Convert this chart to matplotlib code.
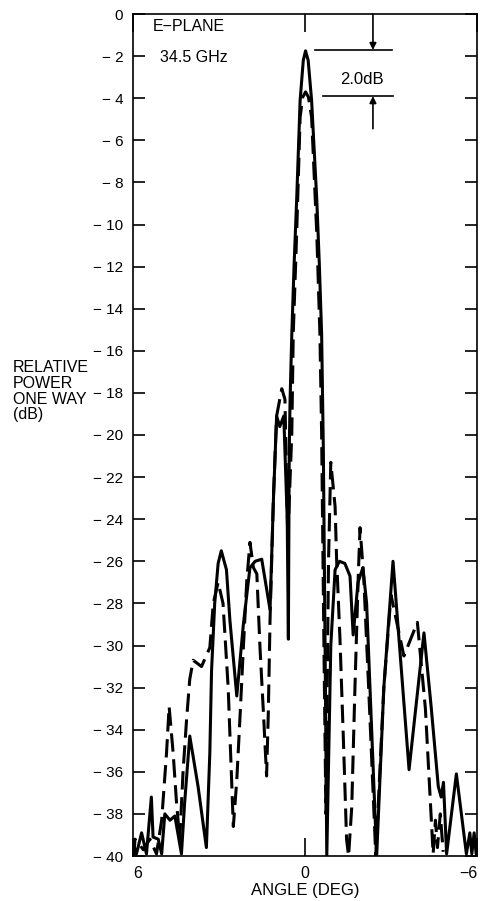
import numpy as np
import matplotlib.pyplot as plt

plt.rcParams['font.family'] = ['Liberation Sans', 'DejaVu Sans']

# measured pattern, solid trace (angle in deg, relative power in dB)
solid_ang = [5.97, 5.88, 5.70, 5.53, 5.36, 5.30, 5.12, 5.00, 4.89, 4.71,
             4.54, 4.31, 4.20, 4.02, 3.73, 3.44, 3.32, 3.26, 3.15, 3.03,
             2.92, 2.74, 2.62, 2.38, 2.15, 1.92, 1.74, 1.51, 1.22, 1.10,
             0.99, 0.88, 0.74, 0.62, 0.58, 0.55, 0.52, 0.46, 0.38, 0.29,
             0.17, 0.06, -0.02, -0.11, -0.23, -0.41, -0.50, -0.58, -0.64, -0.70,
             -0.76, -0.90, -1.05, -1.20, -1.39, -1.57, -1.68, -1.85, -2.02, -2.15,
             -2.50, -2.75, -3.07, -3.63, -4.15, -4.40, -4.65, -4.75, -4.83, -4.94,
             -5.28, -5.63, -5.75, -5.82, -5.90, -5.97]
solid_db = [-39.5, -39.9, -38.9, -39.9, -37.2, -39.1, -39.2, -39.9, -38.0, -38.3,
            -38.1, -39.9, -37.5, -34.3, -36.7, -39.6, -35.1, -31.2, -28.0, -26.1,
            -25.5, -26.4, -28.8, -32.4, -29.0, -26.3, -26.0, -25.9, -28.3, -23.0,
            -19.1, -19.6, -19.1, -24.0, -29.7, -20.7, -18.3, -15.2, -11.9, -8.8,
            -4.1, -2.2, -1.75, -2.2, -4.1, -8.8, -11.9, -15.2, -20.7, -30.0,
            -40.0, -30.0, -26.4, -26.0, -26.1, -26.7, -29.5, -27.0, -26.3, -28.0,
            -40.0, -32.0, -26.0, -35.9, -29.4, -32.9, -36.7, -37.2, -36.5, -39.9,
            -36.1, -39.9, -38.9, -39.9, -38.9, -39.9]

# dashed trace
dash_ang = [5.97, 5.93, 5.64, 5.41, 5.18, 5.00, 4.83, 4.74, 4.60, 4.48,
            4.37, 4.25, 4.13, 4.02, 3.90, 3.61, 3.32, 3.20, 3.03, 2.86,
            2.68, 2.50, 2.38, 2.26, 2.15, 2.03, 1.92, 1.80, 1.68, 1.57,
            1.45, 1.34, 1.28, 1.22, 1.10, 0.99, 0.81, 0.70, 0.60, 0.46,
            0.41, 0.29, 0.17, 0.08, -0.02, -0.12, -0.23, -0.41, -0.52, -0.58,
            -0.66, -0.73, -0.82, -0.90, -1.05, -1.10, -1.22, -1.34, -1.45, -1.52,
            -1.63, -1.74, -1.86, -1.92, -2.05, -2.22, -2.47, -2.75, -3.00, -3.45,
            -3.92, -4.20, -4.47, -4.55, -4.62, -4.72, -4.82]
dash_db = [-40.0, -39.2, -39.7, -39.2, -39.9, -38.3, -35.1, -32.9, -35.1, -37.5,
           -39.2, -35.9, -33.5, -31.6, -30.7, -31.0, -30.1, -28.0, -27.0, -28.0,
           -32.0, -38.6, -36.4, -33.2, -30.1, -26.9, -25.1, -26.3, -26.6, -30.1,
           -33.2, -36.2, -33.2, -28.8, -22.9, -19.1, -17.8, -18.3, -25.0, -19.9,
           -15.2, -10.4, -4.9, -3.95, -3.7, -3.95, -4.9, -10.4, -15.2, -19.9,
           -30.0, -38.0, -26.0, -21.3, -23.4, -25.8, -29.7, -34.5, -39.2, -40.0,
           -37.7, -32.1, -26.6, -24.4, -26.8, -32.0, -40.0, -32.0, -27.6, -30.5,
           -28.9, -33.0, -39.9, -38.3, -39.6, -38.0, -39.8]

ytick_vals = list(range(0, -41, -2))
ytick_labels = ['0'] + ['\u2212 %d' % -v for v in ytick_vals[1:]]
xtick_vals = [6, 0, -6]
xtick_labels = ['6', '0', '\u22126']

fig = plt.figure(figsize=(4.8, 9.01), dpi=100)
ax = fig.add_axes([133 / 480, 1 - 856 / 901, 344 / 480, 842 / 901])

ax.plot(solid_ang, solid_db, color='black', lw=2.2,
        solid_joinstyle='round', solid_capstyle='round')
ax.plot(dash_ang, dash_db, color='black', lw=2.2, linestyle=(0, (6, 2.5)),
        dash_joinstyle='round')

ax.set_xlim(6, -6)
ax.set_ylim(-40, 0)
ax.set_yticks(ytick_vals)
ax.set_yticklabels(ytick_labels)
ax.set_xticks(xtick_vals)
ax.set_xticklabels(xtick_labels)
ax.tick_params(axis='y', direction='in', length=8.5, width=1.2, right=True,
               labelsize=11, pad=7)
ax.tick_params(axis='x', direction='in', length=13, width=1.2, top=True,
               labelsize=11.5, pad=7)
xl = ax.get_xticklabels()
xl[0].set_ha('left')
xl[-1].set_ha('right')
for s in ax.spines.values():
    s.set_linewidth(1.2)

# 2.0 dB marker
ax.plot([-0.35, -3.03], [-1.71, -1.71], color='black', lw=1.2)
ax.plot([-0.63, -3.07], [-3.90, -3.90], color='black', lw=1.2)
arrow = dict(arrowstyle='-|>', color='black', lw=1.2, shrinkA=0, shrinkB=0,
             mutation_scale=10)
ax.annotate('', xy=(-2.37, -1.71), xytext=(-2.37, 0.0), arrowprops=arrow)
ax.annotate('', xy=(-2.37, -3.90), xytext=(-2.37, -5.45), arrowprops=arrow)
ax.text(-1.99, -3.1, '2.0dB', fontsize=12, ha='center', va='center')

ax.text(5.30, -0.6, 'E\u2212PLANE', fontsize=11.5, ha='left', va='center')
ax.text(5.05, -2.05, '34.5 GHz', fontsize=11.5, ha='left', va='center')

ax.set_xlabel('ANGLE (DEG)', fontsize=12, labelpad=2)

for i, line in enumerate(['RELATIVE', 'POWER', 'ONE WAY', '(dB)']):
    fig.text(13 / 480, 1 - (368 + 15.5 * i) / 901, line, fontsize=11.5,
             ha='left', va='center')

fig.savefig('out.png', dpi=100)
